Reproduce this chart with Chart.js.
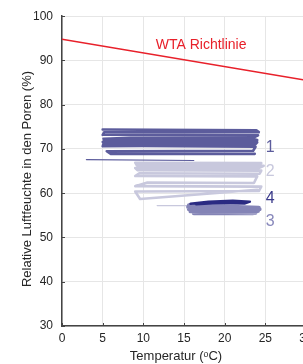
<!DOCTYPE html>
<html><head><meta charset="utf-8">
<script src="https://cdn.jsdelivr.net/npm/chart.js@4/dist/chart.umd.min.js"></script>
<style>
html,body{margin:0;padding:0;background:#fff;overflow:hidden;}
#wrap{width:303px;height:364px;overflow:hidden;position:relative;}
canvas{display:block;}
</style></head>
<body><div id="wrap"><canvas id="c" width="320" height="364"></canvas></div>
<script>
// Axis ticks
const xTicks = [0, 5, 10, 15, 20, 25, 30];
const yTicks = [30, 40, 50, 60, 70, 80, 90, 100];

// WTA guideline (temperature, rel. humidity)
const wtaTemp = [0, 30];
const wtaHum = [94.8, 85.5];

// Measurement series 1
const s1Temp = [5.0, 23.9, 24.2, 5.2, 5.0, 24.1, 23.6, 8.4, 5.1, 23.2, 24.0, 5.3, 5.0, 24.0, 23.8, 5.1, 5.0, 9.8, 23.8, 23.5, 5.5, 6.0, 23.7];
const s1Hum  = [74.4, 74.2, 73.8, 73.8, 73.2, 73.1, 72.6, 72.5, 72.3, 72.4, 72.0, 71.8, 71.6, 71.5, 71.1, 71.2, 70.6, 70.7, 70.5, 69.6, 69.5, 68.9, 68.9];
const s1TailTemp = [3.0, 16.2];
const s1TailHum  = [67.6, 67.4];

// Measurement series 2
const s2Temp = [24.5, 9.0, 9.2, 24.8, 24.2, 9.0, 9.3, 24.5, 24.3, 9.5, 9.0, 24.0, 23.6, 10.5, 9.0, 24.5, 24.2, 9.0, 9.6, 19.4, 24.0];
const s2Hum  = [66.8, 66.9, 66.3, 66.2, 65.7, 65.7, 65.2, 65.1, 64.4, 64.5, 63.9, 63.8, 62.3, 62.4, 61.6, 61.5, 60.5, 60.4, 58.7, 60.1, 60.8];
const s2TailTemp = [11.7, 15.7];
const s2TailHum  = [57.2, 57.2];

// Measurement series 3
const s3Temp = [15.6, 24.2, 15.5, 24.3, 15.6, 24.1, 15.8, 23.8, 16.2, 23.5];
const s3Hum  = [57.3, 56.7, 56.9, 56.4, 56.4, 56.0, 55.9, 55.6, 55.5, 55.5];

// Measurement series 4
const s4Temp = [15.8, 18.0, 21.0, 23.1, 22.5, 19.0, 16.5, 20.0, 22.8];
const s4Hum  = [57.6, 58.1, 58.3, 58.1, 57.7, 57.8, 57.5, 58.0, 57.9];

// Series labels
const seriesLabels = ['1', '2', '4', '3'];
const labelHum = [70.4, 65.0, 58.9, 53.6];
const labelTemp = 25.6;
const labelColors = ['#5c5c9c', '#c8c8dd', '#3a3a8a', '#8888bb'];

const toPts = (xs, ys) => xs.map((x, i) => ({x: x, y: ys[i]}));

const FONT = "'Liberation Sans', Arial, Helvetica, sans-serif";

const overlay = {
  id: 'overlay',
  afterDraw(chart) {
    const ctx = chart.ctx, xs = chart.scales.x, ys = chart.scales.y, a = chart.chartArea;
    ctx.save();
    // inward ticks
    ctx.strokeStyle = '#444'; ctx.lineWidth = 1;
    xTicks.forEach(t => { const px = Math.round(xs.getPixelForValue(t)) + 0.5; ctx.beginPath(); ctx.moveTo(px, a.bottom); ctx.lineTo(px, a.bottom - 3); ctx.stroke(); });
    yTicks.forEach(t => { const py = Math.round(ys.getPixelForValue(t)) + 0.5; ctx.beginPath(); ctx.moveTo(a.left, py); ctx.lineTo(a.left + 3, py); ctx.stroke(); });
    // series labels
    ctx.font = '16px ' + FONT; ctx.textAlign = 'center'; ctx.textBaseline = 'middle';
    seriesLabels.forEach((s, i) => { ctx.fillStyle = labelColors[i]; ctx.fillText(s, xs.getPixelForValue(labelTemp), ys.getPixelForValue(labelHum[i])); });
    // WTA label
    ctx.font = '14px ' + FONT; ctx.fillStyle = '#e8202a';
    ctx.fillText('WTA Richtlinie', xs.getPixelForValue(17.1), ys.getPixelForValue(93.5));
    // axis titles
    ctx.fillStyle = '#262626'; ctx.font = '13px ' + FONT;
    ctx.fillText('Temperatur (ᵒC)', 176, 356);
    ctx.translate(27, 179); ctx.rotate(-Math.PI / 2);
    ctx.fillText('Relative Luftfeuchte in den Poren (%)', 0, 0);
    ctx.restore();
  }
};

const lineDs = (pts, color, w) => ({data: pts, showLine: true, borderColor: color, backgroundColor: color, borderWidth: w, pointRadius: 0, tension: 0, fill: false, borderJoinStyle: 'round', borderCapStyle: 'round'});

new Chart(document.getElementById('c'), {
  type: 'scatter',
  data: {
    datasets: [
      lineDs(toPts(wtaTemp, wtaHum), '#e8202a', 1.5),
      lineDs(toPts(s4Temp, s4Hum), '#2a2a82', 2.5),
      lineDs(toPts(s3Temp, s3Hum), '#8484b6', 4),
      lineDs(toPts(s1Temp, s1Hum), '#5c5c9c', 2.6),
      lineDs(toPts(s1TailTemp, s1TailHum), '#5c5c9c', 1.2),
      lineDs(toPts(s2Temp, s2Hum), '#c8c8dd', 2.6),
      lineDs(toPts(s2TailTemp, s2TailHum), '#c8c8dd', 1.2)
    ]
  },
  options: {
    responsive: false, animation: false, devicePixelRatio: 1,
    layout: {padding: {left: 0, top: 14, right: 14, bottom: 0}},
    plugins: {legend: {display: false}, tooltip: {enabled: false}},
    scales: {
      x: {
        type: 'linear', min: 0, max: 30,
        afterBuildTicks: s => { s.ticks = xTicks.map(v => ({value: v})); },
        afterFit: s => { s.height = 38; },
        ticks: {color: '#262626', font: {size: 12, family: FONT}, padding: 5, maxRotation: 0},
        grid: {color: '#e6e6e6', lineWidth: 1, drawTicks: false},
        border: {color: '#444', width: 1.5}
      },
      y: {
        type: 'linear', min: 30, max: 100,
        afterBuildTicks: s => { s.ticks = yTicks.map(v => ({value: v})); },
        afterFit: s => { s.width = 62; },
        ticks: {color: '#262626', font: {size: 12, family: FONT}, padding: 9},
        grid: {color: '#e6e6e6', lineWidth: 1, drawTicks: false},
        border: {color: '#444', width: 1.5}
      }
    }
  },
  plugins: [overlay]
});
</script></body></html>
